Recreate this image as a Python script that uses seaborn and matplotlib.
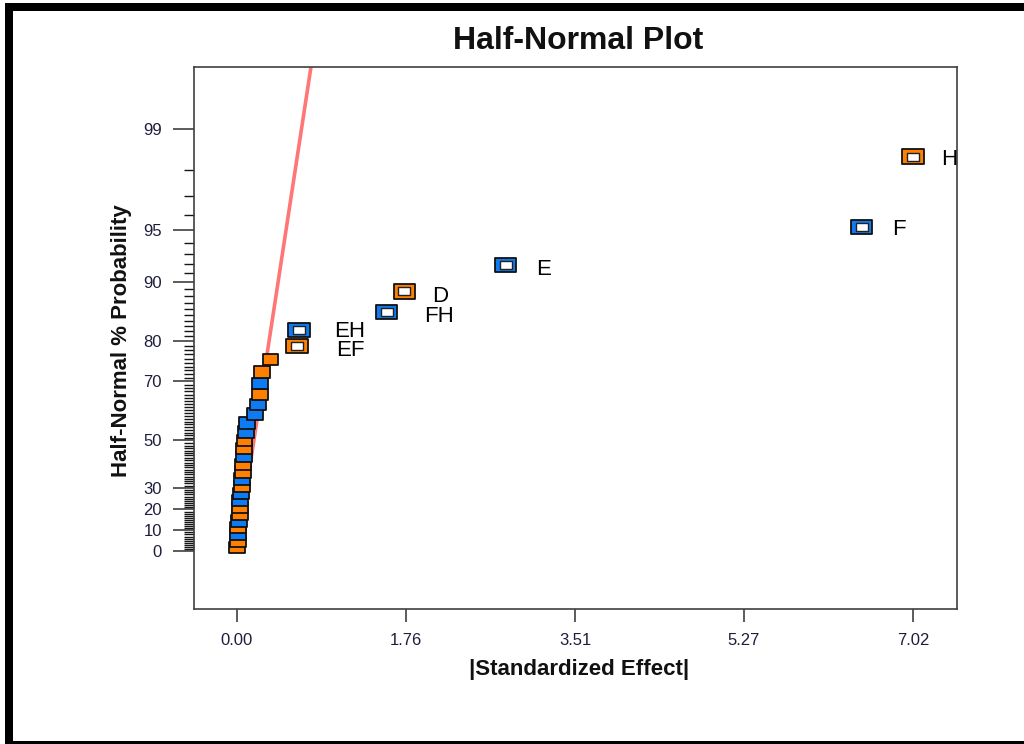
import math
import numpy as np
import pandas as pd
import matplotlib
matplotlib.use("Agg")
import matplotlib.pyplot as plt
from matplotlib.path import Path
from matplotlib.patches import Rectangle
import seaborn as sns

# |Standardized effect| of every term, smallest to largest
effects = [0.005, 0.010, 0.012, 0.015, 0.025, 0.027, 0.030, 0.036, 0.042, 0.048,
           0.050, 0.059, 0.065, 0.076, 0.077, 0.078, 0.094, 0.104, 0.187, 0.215,
           0.242, 0.242, 0.261, 0.348, 0.623, 0.644, 1.555, 1.737, 2.790, 6.487,
           7.020]
# Half-normal % probability of each ranked effect
probabilities = [1.6, 4.8, 8.1, 11.3, 14.5, 17.7, 21.0, 24.2, 27.4, 30.6,
                 33.9, 37.1, 40.3, 43.5, 46.8, 50.0, 53.2, 56.5, 59.7, 62.9,
                 66.1, 69.4, 72.6, 75.8, 79.0, 82.3, 85.5, 88.7, 91.9, 95.2,
                 98.4]
# Sign of the effect
signs = ["Positive", "Positive", "Negative", "Positive", "Negative", "Positive",
         "Positive", "Negative", "Negative", "Positive", "Negative", "Positive",
         "Positive", "Negative", "Positive", "Positive", "Negative", "Negative",
         "Negative", "Negative", "Positive", "Negative", "Positive", "Positive",
         "Positive", "Negative", "Negative", "Positive", "Negative", "Negative",
         "Positive"]
# Term names (only the significant ones are labelled)
terms = ["", "", "", "", "", "", "", "", "", "", "", "", "", "", "", "", "",
         "", "", "", "", "", "", "", "EF", "EH", "FH", "D", "E", "F", "H"]

# Fitted line through the small (error) effects
line_effects = [0.0, 0.855]
line_probs = [0.0, 99.9]

# Axis ticks
y_major = [0, 10, 20, 30, 50, 70, 80, 90, 95, 99]
y_minor = [p for p in range(1, 99) if p not in y_major]
x_tick_labels = ["0.00", "1.76", "3.51", "5.27", "7.02"]

# Label placement (points, relative to the marker)
label_offsets = {"H": (20, -2), "F": (22, -2), "E": (22, -3), "D": (20, -3.5),
                 "FH": (27, -3), "EH": (25, -1.5), "EF": (28, -3.5)}

palette = {"Positive": "#FF8000", "Negative": "#0E7BF2"}
text_color = "#1E1E3C"

df = pd.DataFrame({"effect": effects, "prob": probabilities,
                   "sign": signs, "term": terms})
small = df[df["term"] == ""]
named = df[df["term"] != ""]

# Half-normal probability scale: percent <-> z
_z = np.linspace(-4.0, 4.5, 40001)
_p = 100.0 * np.vectorize(math.erf)(_z / math.sqrt(2.0))


def to_z(p):
    return np.interp(p, _p, _z)


def to_p(z):
    return np.interp(z, _z, _p)


sns.set_theme(style="white")
plt.rcParams["font.family"] = ["Liberation Sans", "DejaVu Sans"]

fig = plt.figure(figsize=(10.24, 7.44), dpi=100)
ax = fig.add_axes([194 / 1024, 1 - 609 / 744, 763 / 1024, 542 / 744])


def rect_marker(w, h):
    verts = [(-w, -h), (w, -h), (w, h), (-w, h), (-w, -h)]
    codes = [Path.MOVETO, Path.LINETO, Path.LINETO, Path.LINETO, Path.CLOSEPOLY]
    return Path(verts, codes)


small_box = rect_marker(0.5, 0.36)
big_box = rect_marker(0.5, 0.333)
inner_box = rect_marker(0.5, 0.36)

sns.lineplot(x=line_effects, y=line_probs, ax=ax, color="#FF7676",
             linewidth=2.6, sort=False, zorder=2)

sns.scatterplot(data=small, x="effect", y="prob", hue="sign", palette=palette,
                marker=small_box, s=132, edgecolor="#111111", linewidth=1.3,
                legend=False, ax=ax, zorder=3)
sns.scatterplot(data=named, x="effect", y="prob", hue="sign", palette=palette,
                marker=big_box, s=240, edgecolor="#111111", linewidth=1.3,
                legend=False, ax=ax, zorder=4)
sns.scatterplot(data=named, x="effect", y="prob", color="white",
                marker=inner_box, s=66, edgecolor="#222222", linewidth=1.0,
                legend=False, ax=ax, zorder=5)

for _, row in named.iterrows():
    ax.annotate(row["term"], (row["effect"], row["prob"]),
                xytext=label_offsets[row["term"]], textcoords="offset points",
                ha="left", va="center", fontsize=16, color="black", zorder=6)

ax.set_yscale("function", functions=(to_z, to_p))
ax.set_ylim(to_p(-0.355), to_p(2.956))
ax.set_xlim(-0.4465, 7.477)

ax.set_yticks(y_major)
ax.set_yticklabels([str(v) for v in y_major])
ax.set_yticks(y_minor, minor=True)
ax.set_xticks(np.linspace(0, max(effects), len(x_tick_labels)))
ax.set_xticklabels(x_tick_labels)

ax.tick_params(axis="y", which="major", direction="out", length=15, width=1.2,
               color="#404040", pad=8, labelsize=12, labelcolor=text_color,
               left=True)
ax.tick_params(axis="y", which="minor", direction="out", length=7.2, width=1.0,
               color="#151515", left=True)
ax.tick_params(axis="x", which="major", direction="out", length=9.5, width=1.2,
               color="#404040", pad=8, labelsize=12, labelcolor=text_color,
               bottom=True)

for sp in ax.spines.values():
    sp.set_color("#404040")
    sp.set_linewidth(1.2)

label_font = ["Liberation Sans", "DejaVu Sans"]
ax.set_xlabel("|Standardized Effect|", fontsize=16, fontweight="bold",
              family=label_font, color="#111111")
ax.xaxis.set_label_coords((579 - 194) / 763, (609 - 670) / 542)
ax.xaxis.label.set_va("center")
ax.set_ylabel("Half-Normal % Probability", fontsize=16, fontweight="bold",
              family=label_font, color="#111111")
ax.yaxis.set_label_coords((122 - 194) / 763, (609 - 341) / 542)
ax.yaxis.label.set_va("center")

fig.text(578 / 1024, 1 - 41 / 744, "Half-Normal Plot", ha="center",
         va="center", fontsize=23, fontweight="bold", family=label_font,
         color="#111111")

# Frame around the figure
for x0, y0, w, h in [(5, 3, 1019, 8), (5, 3, 8, 741), (5, 741, 1019, 3)]:
    fig.add_artist(Rectangle((x0 / 1024, 1 - (y0 + h) / 744), w / 1024, h / 744,
                             transform=fig.transFigure, facecolor="black",
                             edgecolor="none"))

fig.savefig("out.png", dpi=100)
